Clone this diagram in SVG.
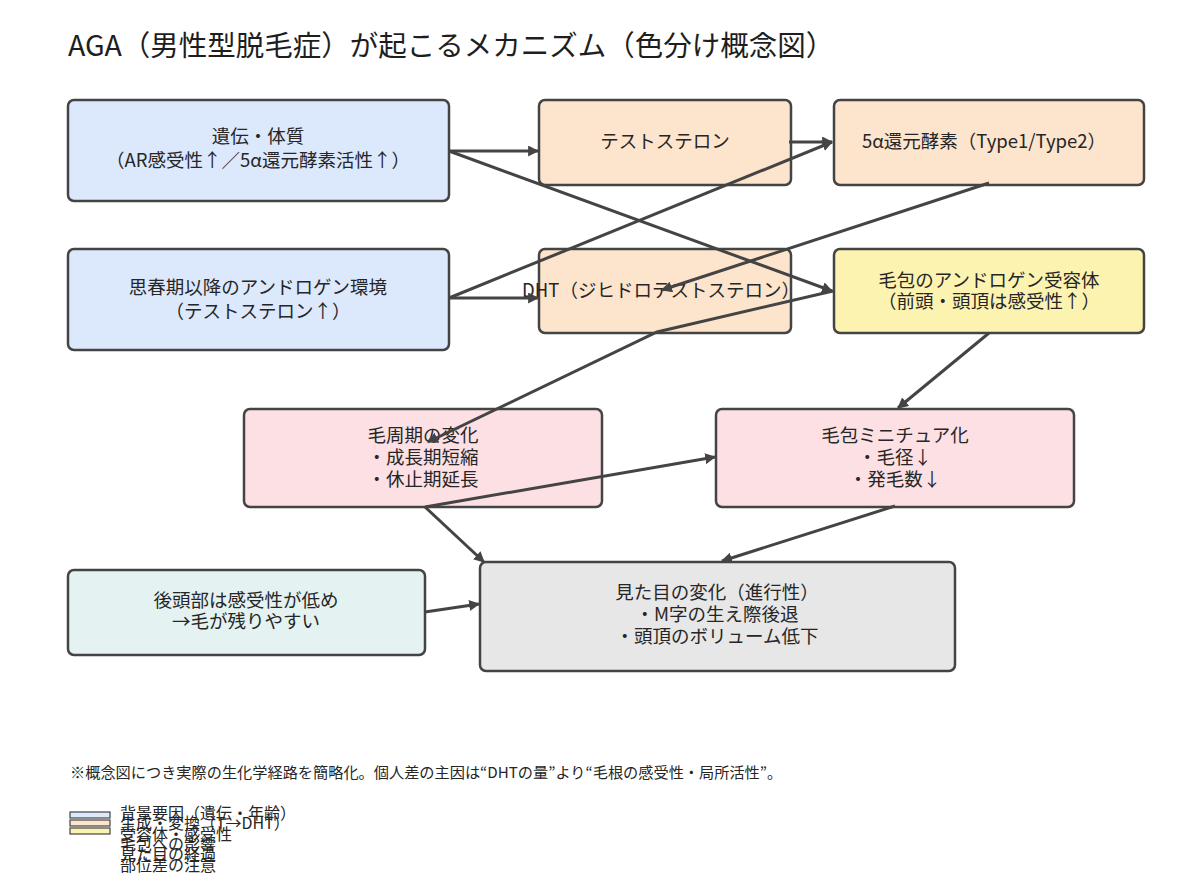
<svg xmlns="http://www.w3.org/2000/svg" width="1200" height="884" viewBox="0 0 1200 884">
<style>
text{font-family:"Noto Sans CJK JP","Noto Sans",sans-serif;fill:#262626;}
.t{font-size:18.5px;text-anchor:middle;}
.box{stroke:#444;stroke-width:2.5;}
.blue{fill:#dce8fc;}
.peach{fill:#fde4cc;}
.yellow{fill:#fdf3b1;}
.pink{fill:#fce0e3;}
.teal{fill:#e4f2f1;}
.grey{fill:#e7e7e7;}
.e{fill:none;stroke:#444;stroke-width:3;marker-end:url(#ah);}
.lg{font-size:16px;}
</style>
<defs>
<marker id="ah" viewBox="0 0 10 10" refX="9" refY="5" markerWidth="11" markerHeight="11" markerUnits="userSpaceOnUse" orient="auto">
<path d="M0,0 L10,5 L0,10 z" fill="#444"/>
</marker>
</defs>
<rect width="1200" height="884" fill="#fff"/>
<text x="68" y="56" style="font-size:28.5px;fill:#1e1e1e">AGA（男性型脱毛症）が起こるメカニズム（色分け概念図）</text>

<g id="n1"><rect class="box blue" x="68" y="100" width="381" height="101" rx="6"/>
<text class="t" x="258" y="143">遺伝・体質</text><text class="t" x="258" y="167">（AR感受性↑／5α還元酵素活性↑）</text></g>
<g id="n2"><rect class="box blue" x="68" y="249" width="381" height="101" rx="6"/>
<text class="t" x="258" y="294">思春期以降のアンドロゲン環境</text><text class="t" x="258" y="318">（テストステロン↑）</text></g>
<g id="n3"><rect class="box peach" x="539" y="100" width="252" height="85" rx="6"/>
<text class="t" x="665" y="148">テストステロン</text></g>
<g id="n4"><rect class="box peach" x="834" y="100" width="310" height="85" rx="6"/>
<text class="t" x="984" y="148">5α還元酵素（Type1/Type2）</text></g>
<g id="n5"><rect class="box peach" x="539" y="249" width="252" height="84" rx="6"/>
<text class="t" x="661" y="297">DHT（ジヒドロテストステロン）</text></g>
<g id="n6"><rect class="box yellow" x="834" y="249" width="310" height="84" rx="6"/>
<text class="t" x="989" y="287">毛包のアンドロゲン受容体</text><text class="t" x="989" y="308">（前頭・頭頂は感受性↑）</text></g>
<g id="n7"><rect class="box pink" x="244" y="409" width="358" height="98" rx="6"/>
<text class="t" x="423" y="442">毛周期の変化</text><text class="t" x="423" y="464">・成長期短縮</text><text class="t" x="423" y="486">・休止期延長</text></g>
<g id="n8"><rect class="box pink" x="716" y="409" width="358" height="98" rx="6"/>
<text class="t" x="895" y="442">毛包ミニチュア化</text><text class="t" x="895" y="464">・毛径↓</text><text class="t" x="895" y="486">・発毛数↓</text></g>
<g id="n9"><rect class="box teal" x="68" y="570" width="357" height="85" rx="6"/>
<text class="t" x="246" y="607">後頭部は感受性が低め</text><text class="t" x="246" y="628">→毛が残りやすい</text></g>
<g id="n10"><rect class="box grey" x="480" y="562" width="475" height="109" rx="6"/>
<text class="t" x="717" y="599">見た目の変化（進行性）</text><text class="t" x="717" y="621">・M字の生え際後退</text><text class="t" x="717" y="643">・頭頂のボリューム低下</text></g>

<g id="edges">
<path class="e" d="M449,151 L538,151"/>
<path class="e" d="M449,151 L832,291"/>
<path class="e" d="M449,298 L538,298"/>
<path class="e" d="M449,298 L832,142"/>
<path class="e" d="M789,142 L832,142"/>
<path class="e" d="M989,183 L662,290"/>
<path class="e" d="M833,291 L657,332 L428,442"/>
<path class="e" d="M989,333 L898,408"/>
<path class="e" d="M425,507 L715,457"/>
<path class="e" d="M425,507 L484,562"/>
<path class="e" d="M895,506 L722,561"/>
<path class="e" d="M425,612 L479,604"/>
</g>

<text x="70" y="778" style="font-size:15.2px">※概念図につき実際の生化学経路を簡略化。個人差の主因は“DHTの量”より“毛根の感受性・局所活性”。</text>

<g id="legend">
<rect x="70" y="812" width="40" height="6" fill="#dce8fc" stroke="#444" stroke-width="1.2"/>
<rect x="70" y="820" width="40" height="6" fill="#fde4cc" stroke="#444" stroke-width="1.2"/>
<rect x="70" y="828" width="40" height="6" fill="#fdf3b1" stroke="#444" stroke-width="1.2"/>
<text class="lg" x="120" y="819">背景要因（遺伝・年齢）</text>
<text class="lg" x="120" y="829">生成・変換（T→DHT）</text>
<text class="lg" x="120" y="840">受容体・感受性</text>
<text class="lg" x="120" y="850">毛包への影響</text>
<text class="lg" x="120" y="860">見た目の経過</text>
<text class="lg" x="120" y="871">部位差の注意</text>
</g>
</svg>
